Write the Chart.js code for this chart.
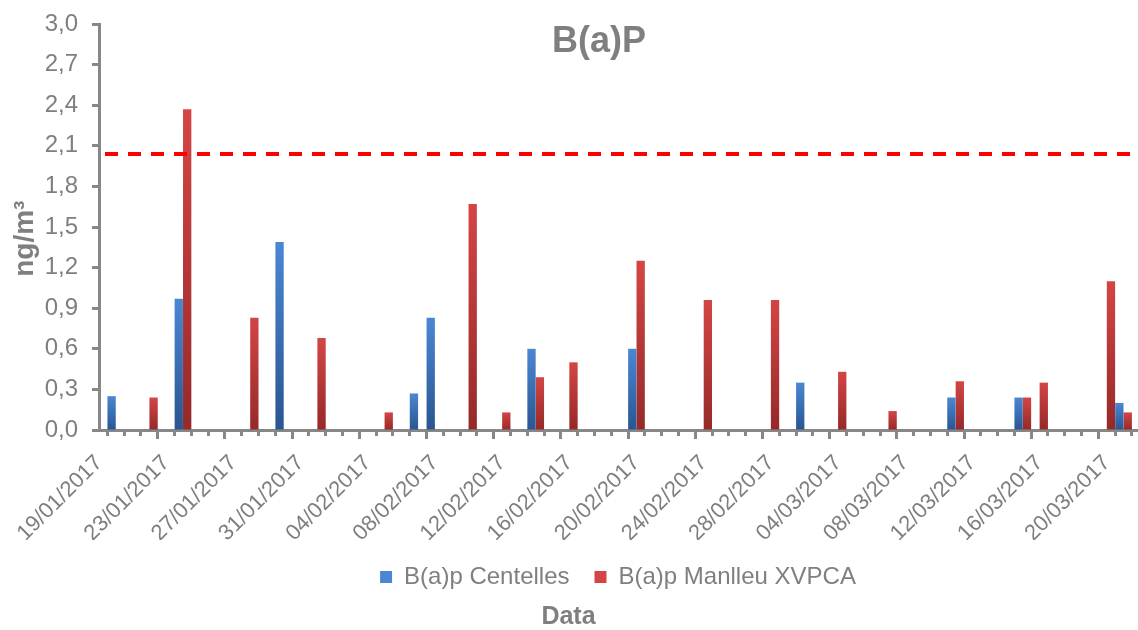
<!DOCTYPE html>
<html>
<head>
<meta charset="utf-8">
<script src="https://cdn.jsdelivr.net/npm/chart.js@4/dist/chart.umd.min.js"></script>
<style>
html,body{margin:0;padding:0;background:#ffffff;}
#wrap{width:1138px;height:630px;position:relative;}
</style>
</head>
<body>
<div id="wrap"><canvas id="c" width="1138" height="630"></canvas></div>
<script>
// ---- data ----
const chartTitle = 'B(a)P';
const xTitle = 'Data';
const yTitle = 'ng/m³';
const seriesNames = ['B(a)p Centelles', 'B(a)p Manlleu XVPCA'];
const dates = [
  '19/01/2017','20/01/2017','21/01/2017','22/01/2017','23/01/2017','24/01/2017','25/01/2017','26/01/2017',
  '27/01/2017','28/01/2017','29/01/2017','30/01/2017','31/01/2017','01/02/2017','02/02/2017','03/02/2017',
  '04/02/2017','05/02/2017','06/02/2017','07/02/2017','08/02/2017','09/02/2017','10/02/2017','11/02/2017',
  '12/02/2017','13/02/2017','14/02/2017','15/02/2017','16/02/2017','17/02/2017','18/02/2017','19/02/2017',
  '20/02/2017','21/02/2017','22/02/2017','23/02/2017','24/02/2017','25/02/2017','26/02/2017','27/02/2017',
  '28/02/2017','01/03/2017','02/03/2017','03/03/2017','04/03/2017','05/03/2017','06/03/2017','07/03/2017',
  '08/03/2017','09/03/2017','10/03/2017','11/03/2017','12/03/2017','13/03/2017','14/03/2017','15/03/2017',
  '16/03/2017','17/03/2017','18/03/2017','19/03/2017','20/03/2017','21/03/2017'
];
const centelles = [
  null,0.25,null,null,null,0.97,null,null,
  null,null,null,1.39,null,null,null,null,
  null,null,null,0.27,0.83,null,null,null,
  null,null,0.60,null,null,null,null,null,
  0.60,null,null,null,null,null,null,null,
  null,null,0.35,null,null,null,null,null,
  null,null,null,0.24,null,null,null,0.24,
  null,null,null,null,null,0.20
];
const manlleu = [
  null,null,null,0.24,null,2.37,null,null,
  null,0.83,null,null,null,0.68,null,null,
  null,0.13,null,null,null,null,1.67,null,
  0.13,null,0.39,null,0.50,null,null,null,
  1.25,null,null,null,0.96,null,null,null,
  0.96,null,null,null,0.43,null,null,0.14,
  null,null,null,0.36,null,null,null,0.24,
  0.35,null,null,null,1.10,0.13
];
const limitValue = 2.04;
const yTicks = [0,0.3,0.6,0.9,1.2,1.5,1.8,2.1,2.4,2.7,3.0];
const labelEvery = 4;

// ---- styling ----
const FONT = '"Liberation Sans", Arial, sans-serif';
const GREY = '#7f7f7f';
const AXIS = '#878787';
const BLUE = ['#4a87d3', '#2a5591'];
const RED  = ['#d44545', '#962929'];

function gradientFill(cols) {
  return (ctx) => {
    const chart = ctx.chart;
    if (ctx.type !== 'data' || !chart.chartArea || !ctx.raw || ctx.raw.y == null) return cols[0];
    const ys = chart.scales.y;
    const top = ys.getPixelForValue(ctx.raw.y);
    const bot = ys.getPixelForValue(0);
    const g = chart.ctx.createLinearGradient(0, top, 0, bot);
    g.addColorStop(0, cols[0]);
    g.addColorStop(1, cols[1]);
    return g;
  };
}

const lastIndex = dates.length - 1;
const xMax = lastIndex + 0.8;

const innerTitle = {
  id: 'innerTitle',
  afterDraw(chart) {
    const c = chart.ctx;
    c.save();
    c.font = 'bold 36px ' + FONT;
    c.fillStyle = GREY;
    c.textAlign = 'center';
    c.textBaseline = 'middle';
    c.fillText(chartTitle, 599, 42);
    c.restore();
  }
};

new Chart(document.getElementById('c'), {
  type: 'bar',
  data: {
    datasets: [
      {
        label: seriesNames[0],
        data: centelles.map((v, i) => ({ x: i, y: v })),
        backgroundColor: gradientFill(BLUE),
        borderWidth: 0,
        categoryPercentage: 1.0,
        barPercentage: 0.99,
        order: 2
      },
      {
        label: seriesNames[1],
        data: manlleu.map((v, i) => ({ x: i, y: v })),
        backgroundColor: gradientFill(RED),
        borderWidth: 0,
        categoryPercentage: 1.0,
        barPercentage: 0.99,
        order: 2
      },
      {
        type: 'line',
        label: 'limit',
        data: [{ x: 0, y: limitValue }, { x: xMax, y: limitValue }],
        borderColor: '#ff0000',
        borderWidth: 4,
        borderDash: [13, 10],
        borderDashOffset: 17,
        pointRadius: 0,
        fill: false,
        order: 0
      }
    ]
  },
  options: {
    responsive: false,
    animation: false,
    layout: { padding: { top: 24, right: 1, left: 0, bottom: 0 } },
    plugins: {
      legend: {
        position: 'bottom',
        fullSize: false,
        labels: {
          color: GREY,
          font: { family: FONT, size: 24 },
          boxWidth: 12,
          boxHeight: 12,
          padding: 25,
          filter: (item) => item.datasetIndex < 2
        }
      },
      title: {
        display: true,
        position: 'bottom',
        text: xTitle,
        color: GREY,
        font: { family: FONT, size: 25, weight: 'bold', lineHeight: 1.0 },
        padding: { top: 6, bottom: 0 }
      },
      tooltip: { enabled: false }
    },
    scales: {
      x: {
        type: 'linear',
        min: 0,
        max: xMax,
        offset: false,
        afterBuildTicks: (s) => { s.ticks = dates.map((d, i) => ({ value: i })); },
        afterFit: (s) => { s.height = 110; s.paddingRight = 0; },
        ticks: {
          autoSkip: false,
          minRotation: 45,
          maxRotation: 45,
          color: GREY,
          font: { family: FONT, size: 22 },
          padding: 11,
          callback: (v) => (v % labelEvery === 0 ? dates[v] : '')
        },
        grid: {
          drawOnChartArea: false,
          drawTicks: true,
          tickLength: 9,
          tickWidth: 3,
          tickColor: AXIS,
          tickBorderDash: (c) => (c.tick && c.tick.value % labelEvery === 0) ? [] : [4, 60]
        },
        border: { color: AXIS, width: 3 }
      },
      y: {
        min: 0,
        max: 3,
        afterBuildTicks: (s) => { s.ticks = yTicks.map((v) => ({ value: v })); },
        afterFit: (s) => { s.width = 99; s.paddingTop = 0; s.paddingBottom = 0; },
        ticks: {
          color: GREY,
          font: { family: FONT, size: 24 },
          padding: 14,
          callback: (v) => Number(v).toFixed(1).replace('.', ',')
        },
        grid: {
          drawOnChartArea: false,
          tickLength: 7,
          tickWidth: 3,
          tickColor: AXIS
        },
        border: { color: AXIS, width: 3 },
        title: {
          display: true,
          text: yTitle + '   ',
          color: GREY,
          font: { family: FONT, size: 28, weight: 'bold' },
          padding: { top: 8, bottom: 0 }
        }
      }
    }
  },
  plugins: [innerTitle]
});
</script>
</body>
</html>
